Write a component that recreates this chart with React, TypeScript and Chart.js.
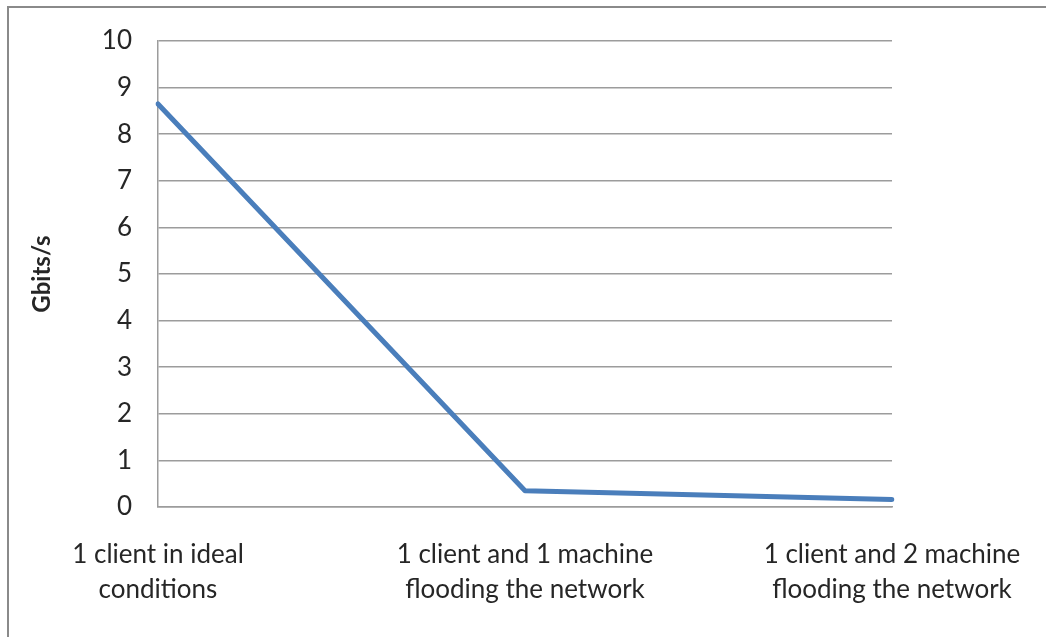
import React, { useEffect, useRef } from "react";
import { Chart, registerables } from "chart.js";

Chart.register(...registerables);

// Throughput per scenario
const scenarios: string[][] = [
  ["1 client in ideal", "conditions"],
  ["1 client and 1 machine", "flooding the network"],
  ["1 client and 2 machine", "flooding the network"],
];
const throughputGbits: number[] = [8.65, 0.35, 0.16];
const yTitle = "Gbits/s";
const yMin = 0;
const yMax = 10;
const yStep = 1;

const FONT = "Lato, 'Open Sans', sans-serif";
const TEXT = "#262626";
const GRID = "#9c9c9c";

export default function App() {
  const canvasRef = useRef<HTMLCanvasElement | null>(null);

  useEffect(() => {
    if (!canvasRef.current) return;
    const chart = new Chart(canvasRef.current, {
      type: "line",
      data: {
        labels: scenarios,
        datasets: [
          {
            data: throughputGbits,
            borderColor: "#4a7ebb",
            backgroundColor: "#4a7ebb",
            borderWidth: 5,
            borderCapStyle: "round",
            borderJoinStyle: "round",
            pointRadius: 0,
            tension: 0,
          },
        ],
      },
      options: {
        responsive: false,
        animation: false,
        layout: { padding: { top: 41, left: 18, right: 154, bottom: 0 } },
        plugins: {
          legend: { display: false },
          tooltip: { enabled: false },
        },
        scales: {
          x: {
            offset: false,
            grid: { display: false, drawTicks: false },
            border: { display: true, color: GRID, width: 1.5 },
            ticks: {
              color: TEXT,
              font: { family: FONT, size: 26, lineHeight: 1.35 },
              padding: 30,
              maxRotation: 0,
              autoSkip: false,
            },
            afterFit: (scale: any) => {
              scale.height = 130;
              // labels overhang into the layout padding instead
              scale.paddingLeft = 0;
              scale.paddingRight = 0;
            },
          },
          y: {
            min: yMin,
            max: yMax,
            grid: { color: GRID, lineWidth: 1.5, drawTicks: false },
            border: { display: true, color: GRID, width: 1.5 },
            ticks: {
              stepSize: yStep,
              color: TEXT,
              font: { family: FONT, size: 26 },
              padding: 26,
            },
            title: {
              display: true,
              text: yTitle,
              color: TEXT,
              font: { family: FONT, size: 24, weight: "bold" },
              padding: { top: 10, bottom: 0 },
            },
            afterFit: (scale: any) => {
              scale.width = 140;
              scale.paddingTop = 0;
              scale.paddingBottom = 0;
            },
          },
        },
      },
    });
    return () => chart.destroy();
  }, []);

  return (
    <div
      style={{
        position: "fixed",
        left: 0,
        top: 0,
        width: 1046,
        height: 637,
        background: "#ffffff",
        overflow: "hidden",
      }}
    >
      <div
        style={{
          position: "absolute",
          left: 7,
          top: 6,
          width: 1100,
          height: 700,
          borderTop: "2px solid #8a8a8a",
          borderLeft: "2px solid #8a8a8a",
          boxSizing: "border-box",
        }}
      />
      <canvas
        ref={canvasRef}
        width={1046}
        height={637}
        style={{ position: "absolute", left: 0, top: 0 }}
      />
    </div>
  );
}
